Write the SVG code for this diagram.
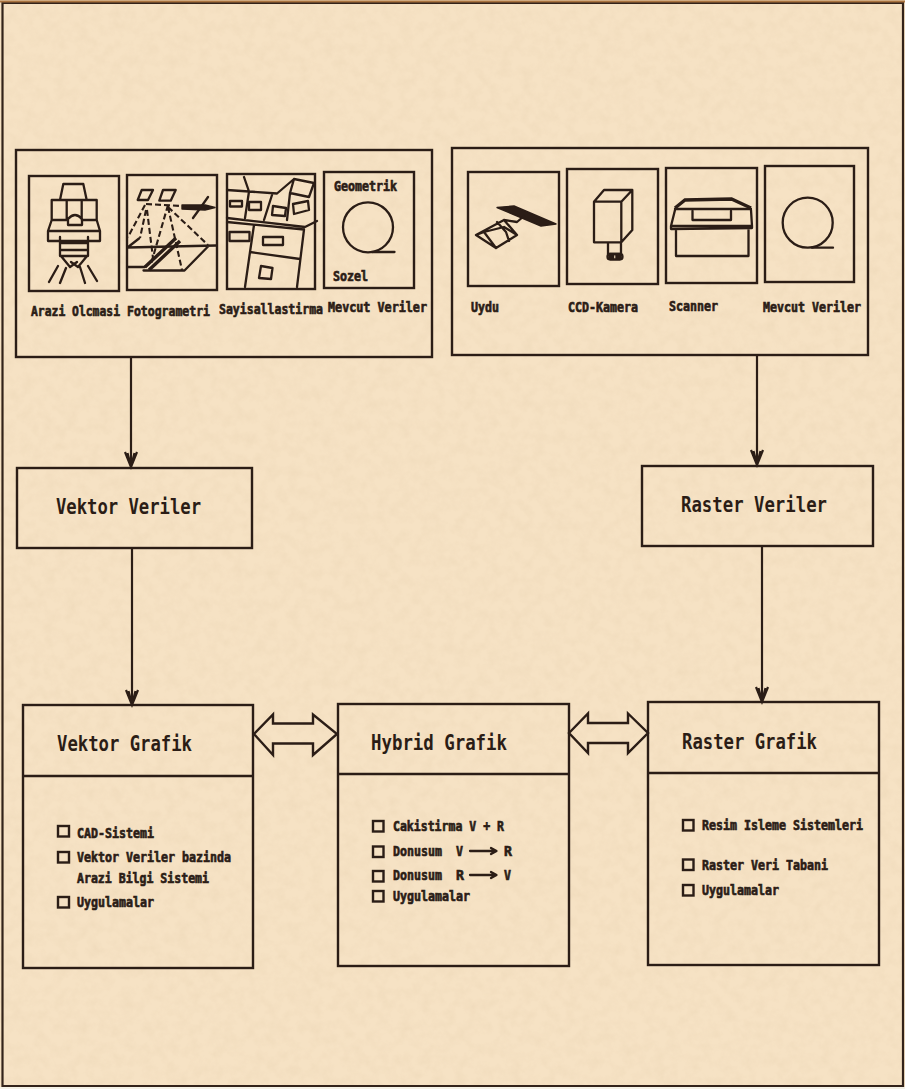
<svg xmlns="http://www.w3.org/2000/svg" width="905" height="1089" viewBox="0 0 905 1089">
<style>
.b{fill:none;stroke:#2b1d16;stroke-width:2.4;stroke-linejoin:miter}
.p{fill:none;stroke:#2b1d16;stroke-width:2.4}
.i{fill:none;stroke:#2b1d16;stroke-width:2.3;stroke-linejoin:round;stroke-linecap:round}
.d{fill:none;stroke:#2b1d16;stroke-width:2.1;stroke-dasharray:6 3}
.k{fill:#2b1d16;stroke:#2b1d16;stroke-width:1.4;stroke-linejoin:round}
.t{font-family:"DejaVu Sans Mono","Liberation Mono",monospace;font-weight:700;fill:#2b1d16;font-size:22px}
.s{font-family:"DejaVu Sans Mono","Liberation Mono",monospace;font-weight:700;fill:#2b1d16;font-size:13.5px;stroke:#2b1d16;stroke-width:.65}
.c{fill:none;stroke:#2b1d16;stroke-width:2.4;stroke-linejoin:miter}
.a{fill:none;stroke:#2b1d16;stroke-width:2.2}
.h{fill:none;stroke:#2b1d16;stroke-width:3.4}
</style>
<defs>
<filter id="paper" x="0" y="0" width="100%" height="100%">
<feTurbulence type="fractalNoise" baseFrequency="0.09" numOctaves="3" seed="7"/>
<feColorMatrix values="0 0 0 0 .74  0 0 0 0 .58  0 0 0 0 .38  .9 0 0 0 -.33"/>
</filter>
</defs>
<rect width="905" height="1089" fill="#f6e2c4"/>
<rect width="905" height="1089" filter="url(#paper)" opacity=".45"/>
<rect x="0" y="1087" width="905" height="2" fill="#f4f1e6"/>
<path d="M2.500 1086V3H903V1086Z" fill="none" stroke="#33231a" stroke-width="2.200"/>
<path d="M0 1.500H905" stroke="#a9733f" stroke-width="2"/>

<g id="panel-vektor">
<rect class="p" x="16" y="150" width="416" height="207"/>
<g id="icon-arazi">
<rect class="b" x="29" y="176" width="90" height="115"/>
<path class="i" d="M63.300 184H83.300L86.700 200H60ZM51.700 200H66.700V220H51.700ZM81.700 200H96.700V220H81.700ZM68 219Q75 211 82 219V225H68ZM51.700 220L48 231V241H100V231L96.700 220M48 231H100M60 237V256H88V237M60 243H88M60 250H88M61 256L70 267M87 256L78 267M70 267L77 262M78 267L71 262M58 266L49 282M66 268L60 283M80 267L85 283M88 266L97 281"/>
</g>
<g id="icon-foto">
<rect class="b" x="127" y="175" width="90" height="115"/>
<path class="i" d="M141.700 190H153L148 200H137.700ZM163 190H175.700L170.700 200.700H159.300ZM127.500 247.500L216 245.500M139 238.500L127.500 247.500M127.500 267H145M143.500 270.500H184.500L209 245.500M193 218L201 207L208 197"/>
<path class="h" d="M145 267L176 238M149 270L180 241"/>
<path class="k" d="M182 205L205 205L215 207.500L205 210L182 209Z"/>
<path class="d" d="M145 205L128 237M147 210L153 258M146 210L140 238M168 205L151 264M168 207L208 245M168 207L182 270M146 204L182 206"/>
</g>
<g id="icon-sayisal">
<rect class="b" x="227" y="174" width="88" height="115"/>
<path class="i" d="M227 190L249 191.500L277 193.500M244 177L249 191.500L245 218M277 193.500L294 179M272 195L264 220M294 179L314 183L309 197L290 193ZM290 193L287 220M227 218L305 227L317 221M227 222L304 229.500M254 225L250 252L245 287M250 252L300 259M304 229.500L297 287"/>
<path class="i" d="M230 201H242V206.500H230ZM249 202H261V210H249ZM273 206L286 208L285 216L272 215ZM293 204L308 201L309 210L294 214ZM229.500 232H249.500V241H229.500ZM263 237H283V245H263ZM261 266L272.500 268L271 279L259 278Z"/>
</g>
<g id="icon-mevcut-1">
<rect class="b" x="324" y="172" width="90" height="116"/>
<circle class="i" cx="368" cy="227.300" r="25"/>
<path class="i" d="M372 252H394.500"/>
<text class="s" x="334" y="191" textLength="63" lengthAdjust="spacingAndGlyphs">Geometrik</text>
<text class="s" x="333" y="281" textLength="35" lengthAdjust="spacingAndGlyphs">Sozel</text>
</g>
<text class="s" x="31" y="316" textLength="89" lengthAdjust="spacingAndGlyphs">Arazi Olcmasi</text>
<text class="s" x="127" y="316" textLength="83" lengthAdjust="spacingAndGlyphs">Fotogrametri</text>
<text class="s" x="219" y="314" textLength="104" lengthAdjust="spacingAndGlyphs">Sayisallastirma</text>
<text class="s" x="328" y="312" textLength="99" lengthAdjust="spacingAndGlyphs">Mevcut Veriler</text>
</g>

<g id="panel-raster">
<rect class="p" x="452" y="148" width="416" height="207"/>
<g id="icon-uydu">
<rect class="b" x="468" y="172" width="91" height="114"/>
<path class="k" d="M497 207.500L514 206L556 224L541 226Z"/>
<path class="i" d="M476 235L504 220L517 235L496 248ZM476 235L484 232L496 248M484 232L504 227L517 235M497 222L506 232L509 241M504 220L517 222L524 216"/>
</g>
<g id="icon-ccd">
<rect class="b" x="567" y="169" width="91" height="115"/>
<path class="i" d="M594 201.700H621.300V242.300H594ZM594 201.700L604 190H632.300L621.300 201.700M632.300 190V230L621.300 242.300M608 243V254H621V243"/>
<rect class="i" x="607.500" y="254" width="15" height="5.500" rx="2.700"/>
<path class="k" d="M609 255H613.500V259H609ZM616 255H621V259H616Z"/>
</g>
<g id="icon-scanner">
<rect class="b" x="666" y="168" width="91" height="115"/>
<path class="h" d="M675 208L685 200L731.500 199L751 208"/>
<path class="i" d="M675 209H751M675 210L671 226V229L752 228V226L751 210M671 226H752M676 229V256H748.500V229M692.500 211V220H731V211M692.500 220H731"/>
</g>
<g id="icon-mevcut-2">
<rect class="b" x="765" y="166" width="89" height="116"/>
<circle class="i" cx="807.700" cy="222.700" r="25"/>
<path class="i" d="M812 247.700H833"/>
</g>
<text class="s" x="471" y="312" textLength="28" lengthAdjust="spacingAndGlyphs">Uydu</text>
<text class="s" x="568" y="312" textLength="70" lengthAdjust="spacingAndGlyphs">CCD-Kamera</text>
<text class="s" x="669" y="311" textLength="49" lengthAdjust="spacingAndGlyphs">Scanner</text>
<text class="s" x="763" y="312" textLength="98" lengthAdjust="spacingAndGlyphs">Mevcut Veriler</text>
</g>

<g id="vektor-veriler">
<rect class="b" x="17" y="468" width="235" height="80"/>
<text class="t" x="56" y="514" textLength="145" lengthAdjust="spacingAndGlyphs">Vektor Veriler</text>
</g>
<g id="raster-veriler">
<rect class="b" x="642" y="466" width="231" height="80"/>
<text class="t" x="681" y="512" textLength="146" lengthAdjust="spacingAndGlyphs">Raster Veriler</text>
</g>

<g id="vektor-grafik">
<rect class="b" x="23" y="705" width="230" height="263"/>
<path class="b" d="M23 776H253"/>
<text class="t" x="57" y="751" textLength="135" lengthAdjust="spacingAndGlyphs">Vektor Grafik</text>
<rect class="b" x="58" y="826" width="11" height="10.500"/>
<text class="s" x="77" y="838" textLength="77" lengthAdjust="spacingAndGlyphs">CAD-Sistemi</text>
<rect class="b" x="58" y="852" width="11" height="10.500"/>
<text class="s" x="77" y="862" textLength="154" lengthAdjust="spacingAndGlyphs">Vektor Veriler bazinda</text>
<text class="s" x="77" y="883" textLength="132" lengthAdjust="spacingAndGlyphs">Arazi Bilgi Sistemi</text>
<rect class="b" x="58" y="897" width="11" height="10.500"/>
<text class="s" x="77" y="907" textLength="77" lengthAdjust="spacingAndGlyphs">Uygulamalar</text>
</g>

<g id="hybrid-grafik">
<rect class="b" x="338" y="704" width="231" height="262"/>
<path class="b" d="M338 774H569"/>
<text class="t" x="371" y="750" textLength="136" lengthAdjust="spacingAndGlyphs">Hybrid Grafik</text>
<rect class="b" x="373" y="821" width="10.500" height="10.500"/>
<text class="s" x="393" y="831" textLength="111" lengthAdjust="spacingAndGlyphs">Cakistirma V + R</text>
<rect class="b" x="373" y="846.500" width="10.500" height="10.500"/>
<text class="s" x="393" y="856" textLength="49" lengthAdjust="spacingAndGlyphs">Donusum</text>
<text class="s" x="456" y="856" textLength="7" lengthAdjust="spacingAndGlyphs">V</text>
<path class="i" d="M470 851H496M491 848L496.500 851L491 854"/>
<text class="s" x="504" y="856" textLength="8" lengthAdjust="spacingAndGlyphs">R</text>
<rect class="b" x="373" y="871" width="10.500" height="10.500"/>
<text class="s" x="393" y="880" textLength="49" lengthAdjust="spacingAndGlyphs">Donusum</text>
<text class="s" x="456" y="880" textLength="8" lengthAdjust="spacingAndGlyphs">R</text>
<path class="i" d="M470 875H496M491 872L496.500 875L491 878"/>
<text class="s" x="504" y="880" textLength="7" lengthAdjust="spacingAndGlyphs">V</text>
<rect class="b" x="373" y="891" width="10.500" height="10.500"/>
<text class="s" x="393" y="901" textLength="77" lengthAdjust="spacingAndGlyphs">Uygulamalar</text>
</g>

<g id="raster-grafik">
<rect class="b" x="648" y="702" width="231" height="263"/>
<path class="b" d="M648 773H879"/>
<text class="t" x="682" y="749" textLength="135" lengthAdjust="spacingAndGlyphs">Raster Grafik</text>
<rect class="b" x="683" y="820" width="10.500" height="10.500"/>
<text class="s" x="702" y="830" textLength="161" lengthAdjust="spacingAndGlyphs">Resim Isleme Sistemleri</text>
<rect class="b" x="683" y="859.500" width="10.500" height="10.500"/>
<text class="s" x="702" y="870" textLength="126" lengthAdjust="spacingAndGlyphs">Raster Veri Tabani</text>
<rect class="b" x="683" y="885" width="10.500" height="10.500"/>
<text class="s" x="702" y="895" textLength="77" lengthAdjust="spacingAndGlyphs">Uygulamalar</text>
</g>

<g id="connectors">
<path class="a" d="M131 357V467M125 452L131 467L137 452M127.500 453L131 467L134.500 453"/>
<path class="a" d="M757 355V465M751 450L757 465L763 450M753.500 451L757 465L760.500 451"/>
<path class="a" d="M132 548V705M126 690L132 705L138 690M128.500 691L132 705L135.500 691"/>
<path class="a" d="M762 546V702M756 687L762 702L768 687M758.500 688L762 702L765.500 688"/>
<path class="c" d="M254 734L273 714.500V723.500H313V714.500L337 734L313 755V743.500H273V755Z"/>
<path class="c" d="M569 733L588 713.500V723H628V713.500L648 733L628 753V743H588V753Z"/>
</g>
</svg>
